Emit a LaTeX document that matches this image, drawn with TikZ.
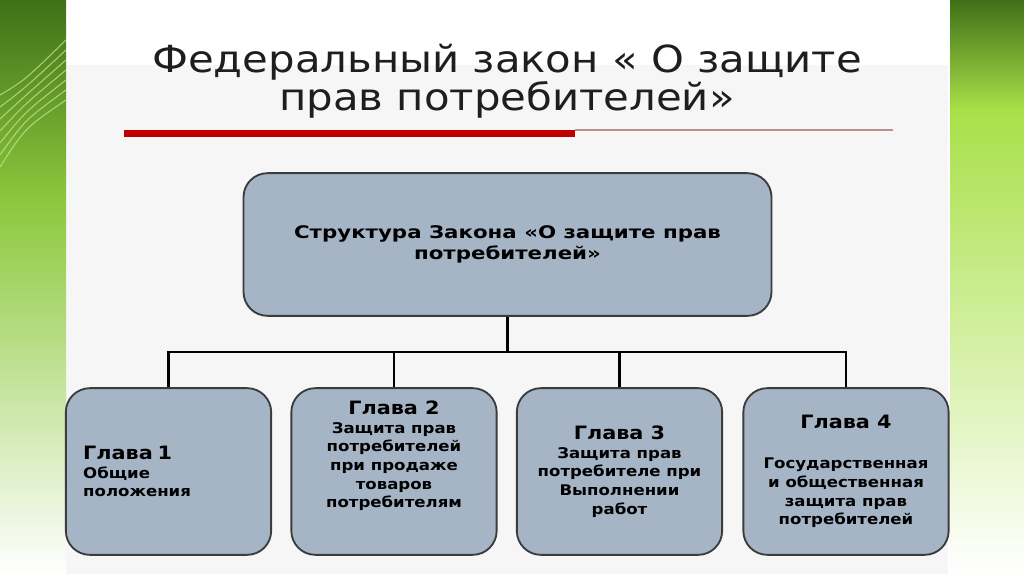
\documentclass[tikz,border=0pt]{standalone}
\usepackage{fontspec}
\setmainfont{DejaVu Sans}
\newfontfamily\titlefont[FakeStretch=1.12]{DejaVu Sans}
\newfontfamily\rootfont[FakeStretch=1.23]{DejaVu Sans}
\newfontfamily\boxfont[FakeStretch=1.13]{DejaVu Sans}
\usetikzlibrary{positioning, calc}
\definecolor{SlideGreenDark}{HTML}{3F7018}
\definecolor{SlideGreen}{HTML}{8CC83C}
\definecolor{SlideGreenLight}{HTML}{A8E048}
\definecolor{SlideStripe}{HTML}{F6F6F6}
\definecolor{TitleRed}{HTML}{C00000}
\definecolor{TitleRule}{HTML}{B89090}
\definecolor{BoxFill}{HTML}{A6B5C6}
\definecolor{BoxBorder}{HTML}{3C3C3C}
\definecolor{TitleText}{HTML}{1E1E1E}
\tikzset{
    % Box styles with rounded corners
    root box/.style={
        rectangle,
        rounded corners=18pt,
        draw=BoxBorder,
        fill=BoxFill,
        line width=1.4pt,
        minimum width=396pt,
        minimum height=107pt,
        align=center,
        font=\rootfont\bfseries\fontsize{13}{15.75}\selectfont
    },
    chapter box/.style={
        rectangle,
        rounded corners=18pt,
        draw=BoxBorder,
        fill=BoxFill,
        line width=1.4pt,
        minimum width=154pt,
        minimum height=125pt,
        align=center,
        font=\boxfont\bfseries\fontsize{11}{14}\selectfont
    },
    tree link/.style={
        line width=1.8pt,
        black
    }
}
\newcommand{\glava}[1]{{\fontsize{13.8}{14}\selectfont #1}}

\begin{document}
\begin{tikzpicture}[x=0.75pt, y=-0.75pt]
        \useasboundingbox (0,0) rectangle (1024,574);

        % slide background
        \fill[white] (0,0) rectangle (1024,574);
        \fill[SlideStripe] (66,65) rectangle (948,574);
        \shade[top color=SlideGreenDark, bottom color=SlideGreen] (0,0) rectangle (66,200);
        \shade[top color=SlideGreen, bottom color=white] (0,200) rectangle (66,574);
        \shade[top color=SlideGreenDark, bottom color=SlideGreenLight] (950,0) rectangle (1024,110);
        \shade[top color=SlideGreenLight, bottom color=white] (950,110) rectangle (1024,574);
        \foreach \k in {0,...,6}
            \draw[SlideGreenLight!60!white, opacity=0.7, line width=0.8pt]
                (0,95+\k*12) .. controls (25,80+\k*8) .. (66,40+\k*10);

        % Title
        \node[font=\titlefont\fontsize{28}{28.5}\selectfont, text=TitleText, align=center] (title) at (507,81) {
            Федеральный закон « О защите\\
            прав потребителей»
        };
        \fill[TitleRed] (124,130) rectangle (575,137);
        \draw[TitleRule, line width=1.2pt] (575,130) -- (893,130);

        % Root
        \node[root box] (root) at (507.5,244.5) {
            Структура Закона «О защите прав\\
            потребителей»
        };

        % Chapters
        \node[chapter box, align=left, text width=128pt] (ch1) at (168.5,471.5) {
            \glava{Глава 1}\\
            Общие\\
            положения
        };
        \node[chapter box, text depth=26pt] (ch2) at (394,471.5) {
            \glava{Глава 2}\\
            Защита прав\\
            потребителей\\
            при продаже\\
            товаров\\
            потребителям
        };
        \node[chapter box] (ch3) at (619.5,471.5) {
            \glava{Глава 3}\\
            Защита прав\\
            потребителе при\\
            Выполнении\\
            работ
        };
        \node[chapter box] (ch4) at (846,471.5) {
            \glava{Глава 4}\\[16pt]
            Государственная\\
            и общественная\\
            защита прав\\
            потребителей
        };

        % Tree
        \coordinate (bus) at (507.5,352);
        \draw[tree link] (root.south) -- (bus);
        \foreach \ch in {ch1,ch2,ch3,ch4}
            \draw[tree link] (bus) -| (\ch.north);
    \end{tikzpicture}
\end{document}
